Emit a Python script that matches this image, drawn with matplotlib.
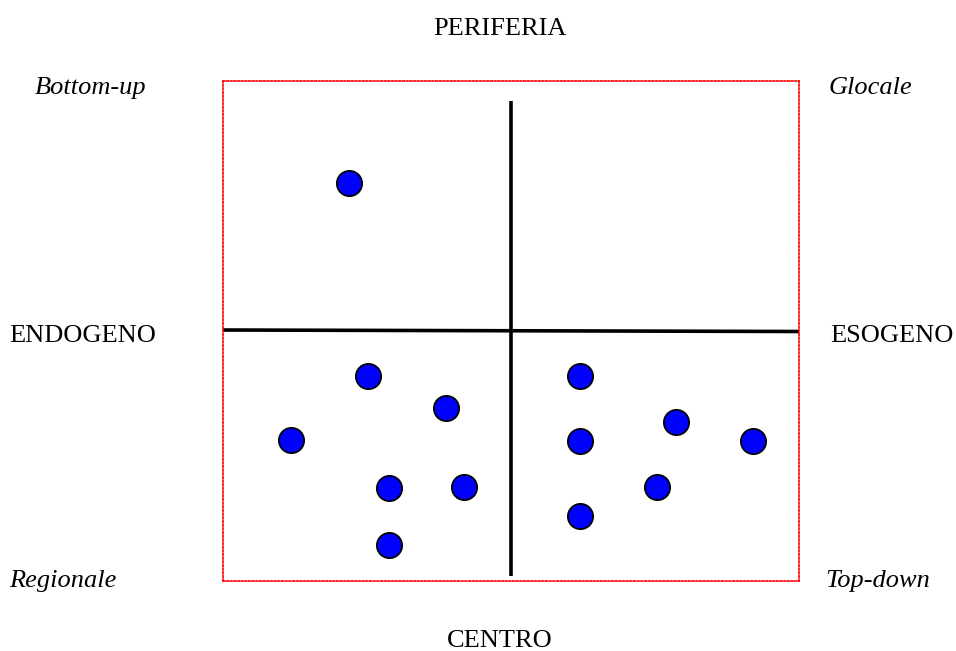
import matplotlib
matplotlib.use("Agg")
import matplotlib.pyplot as plt

# coordinate del grafico: centro (0, 0), riquadro da -10 a 10
x_pts = [-5.61, -4.95, -2.25, -7.62, -4.22, -1.62, -4.22,
         2.40, 2.40, 2.40, 5.73, 5.07, 8.40]
y_pts = [5.92, -1.80, -3.08, -4.36, -6.28, -6.24, -8.56,
         -1.80, -4.40, -7.40, -3.64, -6.24, -4.40]

# assi del quadrante
vert_x = [0.0, 0.0]
vert_y = [9.21, -9.80]
horiz_x = [-10.0, 10.0]
horiz_y = [0.04, -0.02]

# etichette (testo, x pixel, y baseline pixel, corsivo)
labels = [
    ("PERIFERIA", 500, 35, False),
    ("CENTRO", 500, 647, False),
    ("ENDOGENO", 83, 342, False),
    ("ESOGENO", 892, 342, False),
    ("Bottom-up", 91, 94, True),
    ("Glocale", 870, 94, True),
    ("Regionale", 63, 587, True),
    ("Top-down", 878, 587, True),
]

W, H = 956, 651
fig = plt.figure(figsize=(W / 100, H / 100), dpi=100)
ax = fig.add_axes([222.5 / W, (H - 581) / H, 576.5 / W, 500 / H])
ax.set_xlim(-10, 10)
ax.set_ylim(-10, 10)
ax.set_xticks([])
ax.set_yticks([])
for sp in ax.spines.values():
    sp.set_color("red")
    sp.set_linestyle((0, (1, 1.2)))
    sp.set_linewidth(1.2)

ax.plot(vert_x, vert_y, color="black", lw=2.6, solid_capstyle="butt")
ax.plot(horiz_x, horiz_y, color="black", lw=2.6, solid_capstyle="butt")
ax.scatter(x_pts, y_pts, s=330, c="#0000ff", edgecolors="black",
           linewidths=1.3, zorder=3)

for txt, px, py, it in labels:
    fig.text(px / W, 1 - py / H, txt, ha="center", va="baseline",
             fontsize=19, family="Liberation Serif",
             style="italic" if it else "normal")

fig.savefig("out.png", dpi=100, facecolor="white")
